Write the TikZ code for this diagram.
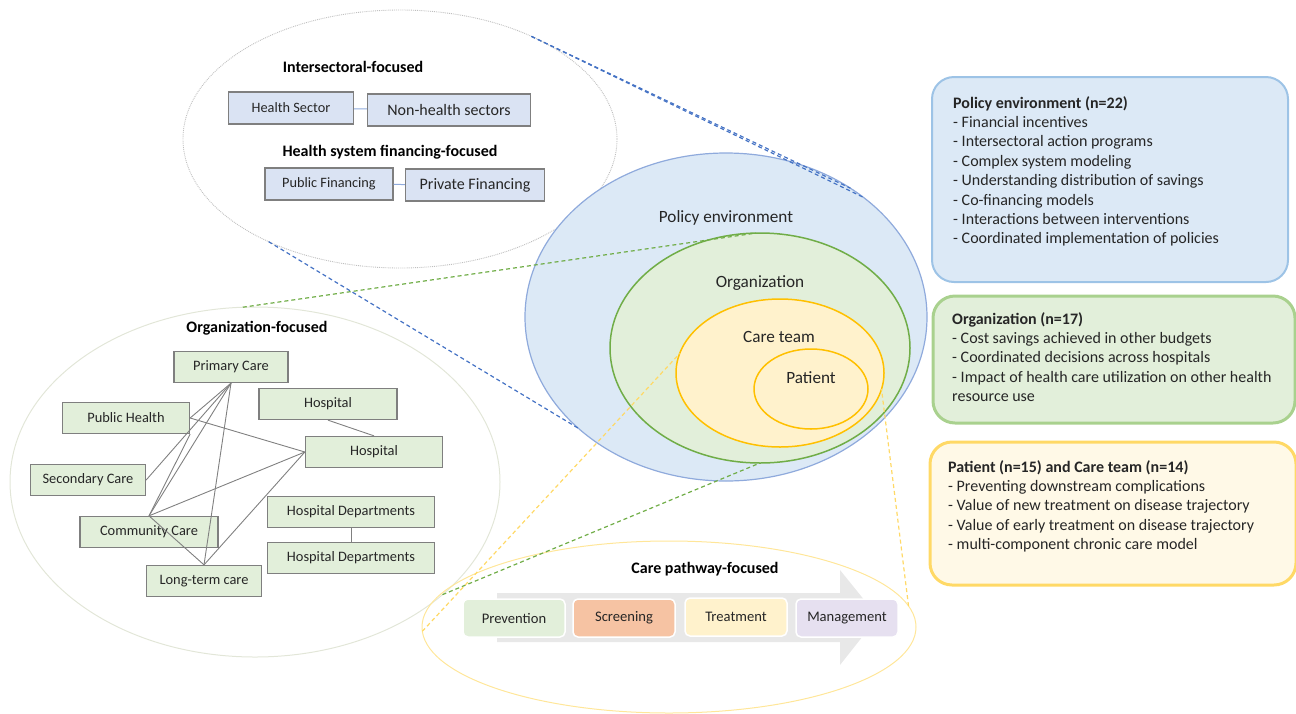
\documentclass[tikz,border=0pt]{standalone}
\usepackage{fontspec}
\setmainfont{Carlito}
\usetikzlibrary{shapes.geometric}

\definecolor{inktext}{HTML}{262626}
\definecolor{polfill}{HTML}{DCE9F6}
\definecolor{polline}{HTML}{8FAADC}
\definecolor{orgfill}{HTML}{E2EFDA}
\definecolor{orgline}{HTML}{70AD47}
\definecolor{teamfill}{HTML}{FFF2CC}
\definecolor{teamline}{HTML}{FFC000}
\definecolor{secfill}{HTML}{DAE3F3}
\definecolor{boxgray}{HTML}{7F7F7F}
\definecolor{linkgray}{HTML}{808080}
\definecolor{ringgray}{HTML}{BFBFBF}
\definecolor{orgring}{HTML}{E2E6D8}
\definecolor{pathring}{HTML}{FFE699}
\definecolor{zblue}{HTML}{4472C4}
\definecolor{zgreen}{HTML}{70AD47}
\definecolor{zyellow}{HTML}{FFD966}
\definecolor{arrowgray}{HTML}{E8E8E8}
\definecolor{prevfill}{HTML}{E2EFDA}
\definecolor{scrfill}{HTML}{F6C3A3}
\definecolor{treatfill}{HTML}{FFF2CC}
\definecolor{mgmtfill}{HTML}{E6E0F0}
\definecolor{polbline}{HTML}{9DC3E6}
\definecolor{orgbline}{HTML}{A9D18E}
\definecolor{patbline}{HTML}{FFD966}
\definecolor{patbfill}{HTML}{FFF9E7}

\tikzset{
  zone/.style={shape=ellipse,inner sep=0pt,outer sep=0pt},
  secbox/.style={draw=boxgray,fill=secfill,line width=1.3pt,minimum height=32pt,inner sep=0pt,text=inktext,font=\fontsize{14.3}{16}\selectfont},
  orgbox/.style={draw=boxgray,fill=orgfill,line width=1.3pt,minimum height=31pt,inner sep=0pt,text=inktext,font=\fontsize{14.4}{16}\selectfont},
  stagebox/.style={draw=white,rounded corners=5pt,line width=1.5pt,minimum width=102pt,minimum height=38pt,inner sep=0pt,text=inktext,font=\fontsize{14.6}{16}\selectfont},
  infobox/.style={rounded corners=22pt,inner sep=0pt},
  infotext/.style={anchor=north west,align=left,inner sep=0pt,text=inktext,font=\fontsize{16}{19.4}\selectfont},
  ztitle/.style={text=black,font=\bfseries\fontsize{16}{18}\selectfont},
  zlabel/.style={text=inktext,font=\fontsize{17.2}{19}\selectfont},
  link/.style={draw=linkgray,line width=0.9pt},
  seclink/.style={draw=polline,line width=1pt},
  zoomline/.style={dashed,dash pattern=on 4pt off 3pt,line width=1.2pt}
}

\begin{document}
\begin{tikzpicture}[x=1pt,y=-1pt]
\useasboundingbox (0,0) rectangle (1296,713);

% outer zones
\node[zone,draw=ringgray,densely dotted,line width=0.9pt,minimum width=434pt,minimum height=258pt] (inter) at (400,139) {};
\node[zone,draw=orgring,line width=1pt,minimum width=490pt,minimum height=350pt] (orgf) at (255,482) {};
\node[zone,draw=pathring,line width=1pt,minimum width=494pt,minimum height=172pt] (path) at (669,627) {};

% nested levels
\node[zone,draw=polline,fill=polfill,line width=1.2pt,minimum width=402pt,minimum height=328pt] (pol) at (726,317) {};
\node[zone,draw=orgline,fill=orgfill,line width=1.5pt,minimum width=300pt,minimum height=230pt] (org) at (760,348) {};
\node[zone,draw=teamline,fill=teamfill,line width=1.5pt,minimum width=208pt,minimum height=148pt] (team) at (780,373) {};
\node[zone,draw=teamline,fill=teamfill,line width=1.5pt,minimum width=114pt,minimum height=80pt] (pat) at (811,389) {};
\node[zlabel] (poltxt) at (726,218) {Policy environment};
\node[zlabel] (orgtxt) at (760,283) {Organization};
\node[zlabel] (teamtxt) at (779,337) {Care team};
\node[zlabel] (pattxt) at (811,378) {Patient};

% intersectoral / financing
\node[ztitle] (intertxt) at (353,67) {Intersectoral-focused};
\node[secbox,minimum width=125pt] (hs) at (291,108) {Health Sector};
\node[secbox,minimum width=163pt,font=\fontsize{16}{18}\selectfont] (nh) at (449,110) {Non-health sectors};
\draw[seclink] (hs) -- (nh);
\node[ztitle] (fintxt) at (390,152) {Health system financing-focused};
\node[secbox,minimum width=128pt] (pubf) at (329,184) {Public Financing};
\node[secbox,minimum width=139pt,font=\fontsize{16}{18}\selectfont] (privf) at (475,185) {Private Financing};
\draw[seclink] (pubf) -- (privf);

% organization-focused
\node[ztitle] (orgftxt) at (257,328) {Organization-focused};
\node[orgbox,minimum width=114pt] (prim) at (231,367) {Primary Care};
\node[orgbox,minimum width=127pt] (pubh) at (126,418) {Public Health};
\node[orgbox,minimum width=138pt] (hospa) at (328,404) {Hospital};
\node[orgbox,minimum width=137pt] (hospb) at (374,452) {Hospital};
\node[orgbox,minimum width=115pt] (seco) at (88,480) {Secondary Care};
\node[orgbox,minimum width=138pt] (comm) at (149,532) {Community Care};
\node[orgbox,minimum width=167pt] (depa) at (351,512) {Hospital Departments};
\node[orgbox,minimum width=167pt] (depb) at (351,558) {Hospital Departments};
\node[orgbox,minimum width=115pt] (ltc) at (204,581) {Long-term care};

\draw[link] (prim.south) -- (pubh.east);
\draw[link] (prim.south) -- (seco.east);
\draw[link] (prim.south) -- (comm.north);
\draw[link] (prim.south) -- (ltc.north);
\draw[link] (pubh.east) -- (hospb.west);
\draw[link] (pubh.south east) -- (comm.north);
\draw[link] (comm.north) -- (hospb.west);
\draw[link] (comm.north) -- (ltc.north);
\draw[link] (hospb.west) -- (ltc.north);
\draw[link] (hospa.south) -- (hospb.north);
\draw[link] (depa.south) -- (depb.north);

% care pathway
\node[ztitle] (pathtxt) at (705,569) {Care pathway-focused};
\fill[arrowgray] (497,593) -- (840,593) -- (840,570) -- (878,617) -- (840,665) -- (840,642) -- (497,642) -- cycle;
\node[stagebox,fill=prevfill] (prev) at (514,618) {Prevention};
\node[stagebox,fill=scrfill] (scr) at (624,618) {Screening};
\node[stagebox,fill=treatfill] (treat) at (736,617) {Treatment};
\node[stagebox,fill=mgmtfill] (mgmt) at (847,618) {Management};

% zoom lines
\draw[zoomline,draw=zblue] (inter.38) -- (pol.41);
\draw[zoomline,draw=zblue] (inter.38) -- (pol.46);
\draw[zoomline,draw=zblue] (inter.218) -- (pol.217);
\draw[zoomline,draw=zgreen] (orgf.94) -- (org.92);
\draw[zoomline,draw=zgreen] (orgf.329) -- (org.270);
\draw[zoomline,draw=zyellow] (path.181) -- (team.169);
\draw[zoomline,draw=zyellow] (path.5) -- (team.351);

% summary boxes
\node[infobox,draw=polbline,fill=polfill,line width=2pt,minimum width=356pt,minimum height=205pt] (polbox) at (1110,179.5) {};
\node[infotext] (poltext) at (953,96) {\textbf{Policy environment (n=22)}\\
- Financial incentives\\
- Intersectoral action programs\\
- Complex system modeling\\
- Understanding distribution of savings\\
- Co-financing models\\
- Interactions between interventions\\
- Coordinated implementation of policies};

\node[infobox,draw=orgbline,fill=orgfill,line width=3pt,minimum width=362pt,minimum height=127pt] (orgbox) at (1114,359.5) {};
\node[infotext] (orgtext) at (952,312) {\textbf{Organization (n=17)}\\
- Cost savings achieved in other budgets\\
- Coordinated decisions across hospitals\\
- Impact of health care utilization on other health\\
resource use};

\node[infobox,draw=patbline,fill=patbfill,line width=3pt,minimum width=366pt,minimum height=143pt] (patbox) at (1113,513.5) {};
\node[infotext] (pattext) at (948,460) {\textbf{Patient (n=15) and Care team (n=14)}\\
- Preventing downstream complications\\
- Value of new treatment on disease trajectory\\
- Value of early treatment on disease trajectory\\
- multi-component chronic care model};
\end{tikzpicture}
\end{document}
